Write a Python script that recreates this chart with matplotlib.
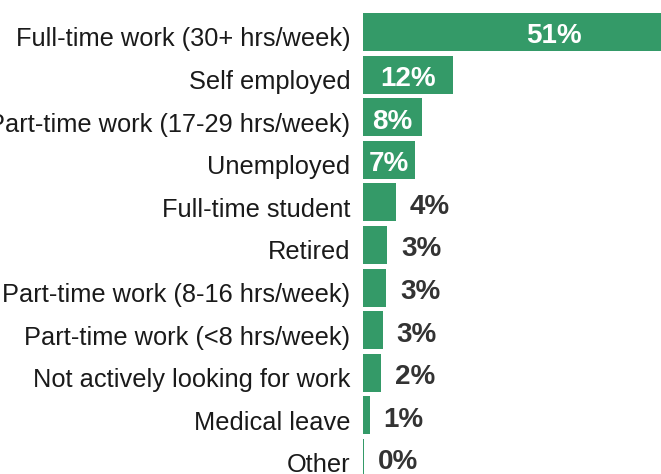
import matplotlib.pyplot as plt

plt.rcParams['font.family'] = ['Liberation Sans', 'DejaVu Sans']

# Data
categories = [
    "Full-time work (30+ hrs/week)",
    "Self employed",
    "Part-time work (17-29 hrs/week)",
    "Unemployed",
    "Full-time student",
    "Retired",
    "Part-time work (8-16 hrs/week)",
    "Part-time work (<8 hrs/week)",
    "Not actively looking for work",
    "Medical leave",
    "Other",
]
values = [51.0, 12.0, 7.9, 6.9, 4.4, 3.2, 3.1, 2.6, 2.4, 0.9, 0.15]
labels = ["51%", "12%", "8%", "7%", "4%", "3%", "3%", "3%", "2%", "1%", "0%"]

green = '#349a68'

fig = plt.figure(figsize=(6.61, 4.74), dpi=100)
ax = fig.add_axes([363 / 661, 0, 1 - 363 / 661, 1])

y = list(range(len(categories)))
ax.barh(y, values, height=0.89, color=green)

# 7.5 px per percent, 42.6 px per row, first row centred at 32 px
ax.set_xlim(0, 298 / 7.5)
ax.set_ylim((474 - 32) / 42.6, -32 / 42.6)

ax.set_xticks([])
ax.set_yticks([])
for s in ax.spines.values():
    s.set_visible(False)

# category labels, sitting a little below the bar centre
for yi, cat in zip(y, categories):
    ax.annotate(cat, (0, yi), xycoords=ax.get_yaxis_transform(),
                xytext=(-9, -3.5), textcoords='offset points',
                ha='right', va='center_baseline', fontsize=18.3,
                color='#1a1a1a', annotation_clip=False)

# Value labels: inside (white) for large bars, outside (dark) for small ones
for yi, v, lab in zip(y, values, labels):
    if v >= 6:
        ax.annotate(lab, (v / 2, yi), xytext=(0, -1), textcoords='offset points',
                    ha='center', va='center_baseline', color='white',
                    fontsize=20, fontweight='bold', annotation_clip=False)
    else:
        ax.annotate(lab, (v, yi), xytext=(10, -1), textcoords='offset points',
                    ha='left', va='center_baseline', color='#333333',
                    fontsize=20, fontweight='bold', annotation_clip=False)

fig.savefig('out.png', dpi=100)
